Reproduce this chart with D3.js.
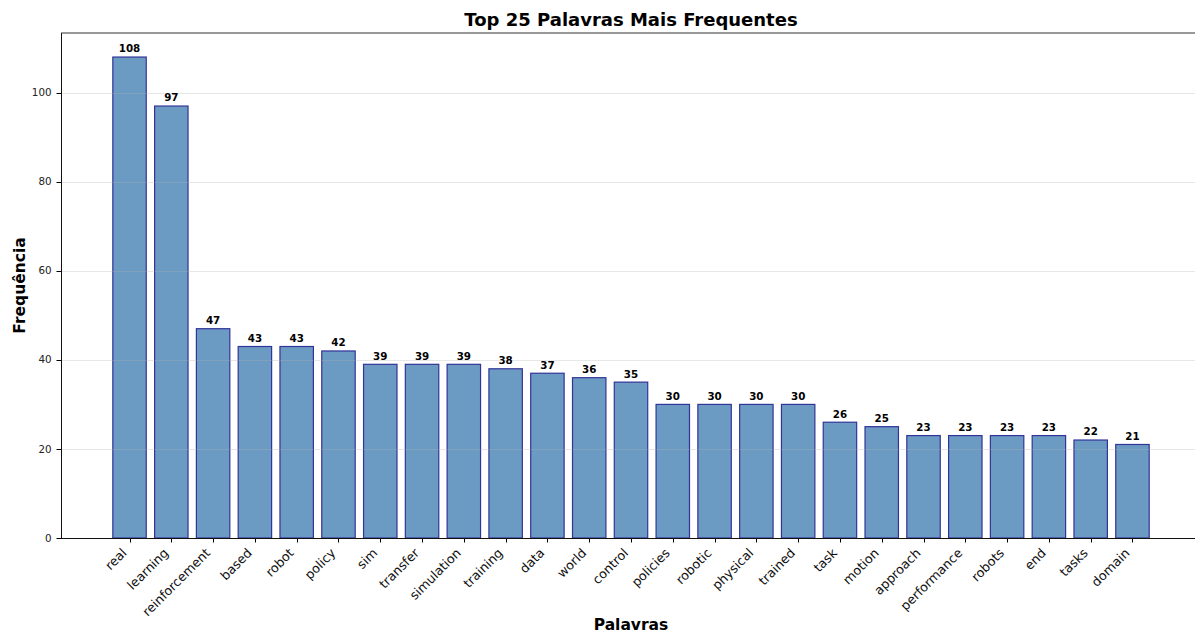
<!DOCTYPE html>
<html>
<head>
<meta charset="utf-8">
<script src="https://cdn.jsdelivr.net/npm/d3@7"></script>
<style>
  body { margin: 0; background: white; }
  svg { display: block; font-family: "DejaVu Sans", sans-serif; }
</style>
</head>
<body>
<div id="chart"></div>
<script>
// dados
var palavras = ["real", "learning", "reinforcement", "based", "robot", "policy", "sim",
  "transfer", "simulation", "training", "data", "world", "control", "policies", "robotic",
  "physical", "trained", "task", "motion", "approach", "performance", "robots", "end",
  "tasks", "domain"];
var frequencias = [108, 97, 47, 43, 43, 42, 39, 39, 39, 38, 37, 36, 35, 30, 30, 30, 30,
  26, 25, 23, 23, 23, 23, 22, 21];
var yTicks = [0, 20, 40, 60, 80, 100];

var W = 1195, H = 634;
var axLeft = 61, axTop = 33, axBottom = 538, axRight = 1201;
var barW = 0.8;

var n = palavras.length;
var pad = 0.05 * (n - 1 + barW);
var x = d3.scaleLinear().domain([-barW / 2 - pad, n - 1 + barW / 2 + pad]).range([axLeft, axRight]);
var y = d3.scaleLinear().domain([0, d3.max(frequencias) * 1.05]).range([axBottom, axTop]);

var svg = d3.select("#chart").append("svg").attr("width", W).attr("height", H);

// barras
svg.append("g").selectAll("rect")
  .data(frequencias)
  .join("rect")
  .attr("x", (d, i) => x(i - barW / 2))
  .attr("y", d => y(d))
  .attr("width", (d, i) => x(i + barW / 2) - x(i - barW / 2))
  .attr("height", d => y(0) - y(d))
  .attr("fill", "rgb(107,155,195)")
  .attr("stroke", "rgb(51,51,153)")
  .attr("stroke-width", 1.2);

// grade horizontal (por cima das barras, como no matplotlib)
svg.append("g").selectAll("line")
  .data(yTicks)
  .join("line")
  .attr("x1", axLeft).attr("x2", axRight)
  .attr("y1", d => Math.round(y(d)) + 0.5).attr("y2", d => Math.round(y(d)) + 0.5)
  .attr("stroke", "#b0b0b0").attr("stroke-opacity", 0.3).attr("stroke-width", 1);

// valores em cima das barras
svg.append("g").selectAll("text")
  .data(frequencias)
  .join("text")
  .attr("x", (d, i) => x(i))
  .attr("y", d => y(d) - 4.6)
  .attr("text-anchor", "middle")
  .attr("font-size", "10.3px")
  .attr("font-weight", "bold")
  .attr("fill", "#000")
  .text(d => d);

// eixo y
var gy = svg.append("g");
gy.selectAll("line")
  .data(yTicks)
  .join("line")
  .attr("x1", axLeft - 4.5).attr("x2", axLeft)
  .attr("y1", d => Math.round(y(d)) + 0.5).attr("y2", d => Math.round(y(d)) + 0.5)
  .attr("stroke", "#000").attr("stroke-width", 1);
gy.selectAll("text")
  .data(yTicks)
  .join("text")
  .attr("x", axLeft - 9.5)
  .attr("y", d => y(d))
  .attr("dy", "0.35em")
  .attr("text-anchor", "end")
  .attr("font-size", "10.3px")
  .attr("fill", "#222")
  .text(d => d);

// eixo x
var gx = svg.append("g");
gx.selectAll("line")
  .data(palavras)
  .join("line")
  .attr("x1", (d, i) => Math.round(x(i)) + 0.5).attr("x2", (d, i) => Math.round(x(i)) + 0.5)
  .attr("y1", axBottom).attr("y2", axBottom + 4.5)
  .attr("stroke", "#000").attr("stroke-width", 1);
gx.selectAll("text")
  .data(palavras)
  .join("text")
  .attr("transform", (d, i) => "translate(" + (x(i) - 2.1) + "," + (547 + 6.8) + ") rotate(-45)")
  .attr("text-anchor", "end")
  .attr("font-size", "12.7px")
  .attr("fill", "#111")
  .text(d => d);

// moldura
svg.append("line").attr("x1", axLeft + 0.5).attr("x2", axLeft + 0.5).attr("y1", axTop).attr("y2", axBottom)
  .attr("stroke", "#111").attr("stroke-width", 1);
svg.append("line").attr("x1", axLeft).attr("x2", axRight).attr("y1", axBottom + 0.5).attr("y2", axBottom + 0.5)
  .attr("stroke", "#111").attr("stroke-width", 1);
svg.append("line").attr("x1", axLeft).attr("x2", axRight).attr("y1", axTop).attr("y2", axTop)
  .attr("stroke", "#333").attr("stroke-width", 1);
svg.append("line").attr("x1", axRight).attr("x2", axRight).attr("y1", axTop).attr("y2", axBottom)
  .attr("stroke", "#111").attr("stroke-width", 1);

// titulos
svg.append("text").attr("x", (axLeft + axRight) / 2).attr("y", 26)
  .attr("text-anchor", "middle").attr("font-size", "18px").attr("font-weight", "bold")
  .text("Top 25 Palavras Mais Frequentes");
svg.append("text").attr("x", (axLeft + axRight) / 2).attr("y", 630)
  .attr("text-anchor", "middle").attr("font-size", "15.5px").attr("font-weight", "bold")
  .text("Palavras");
svg.append("text").attr("transform", "translate(25," + ((axTop + axBottom) / 2) + ") rotate(-90)")
  .attr("text-anchor", "middle").attr("font-size", "15.5px").attr("font-weight", "bold")
  .text("Frequência");
</script>
</body>
</html>
